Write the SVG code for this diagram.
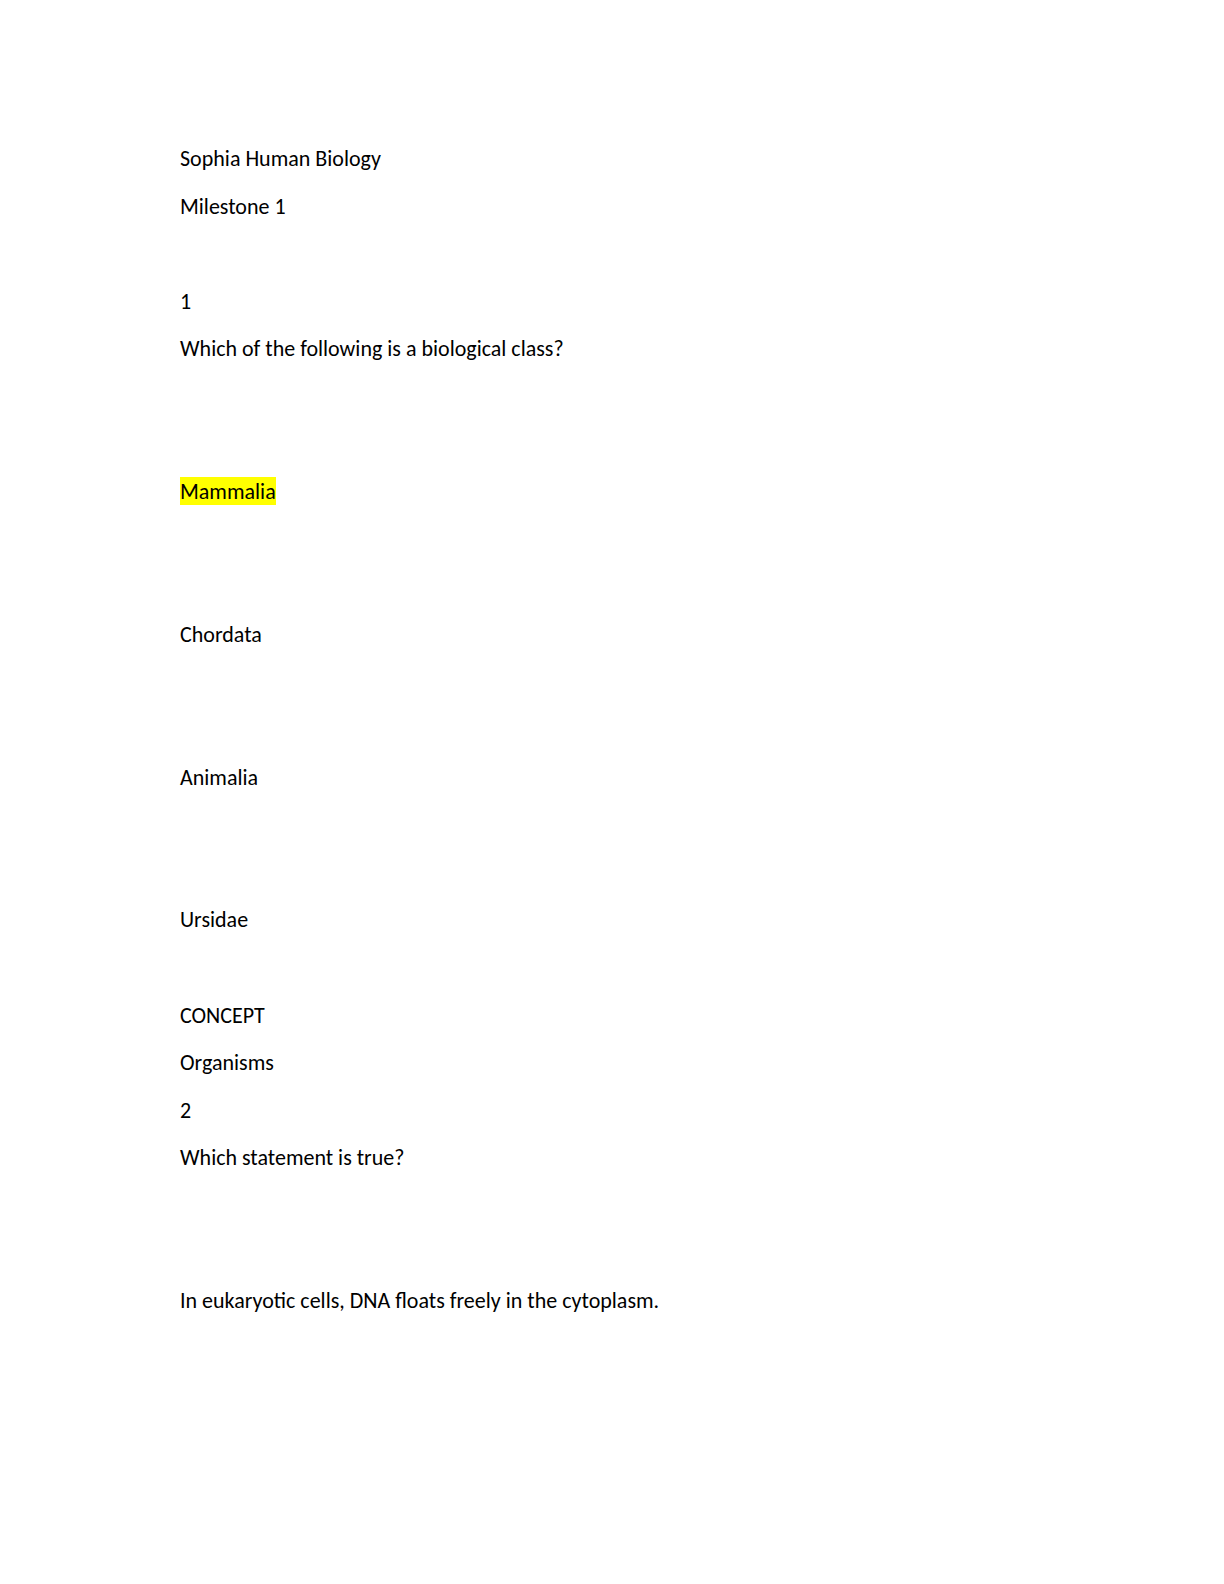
<svg xmlns="http://www.w3.org/2000/svg" width="1224" height="1584" viewBox="0 0 1224 1584">
<style>
text{font-family:Carlito,Lato,"Liberation Sans",sans-serif;font-size:22px;fill:#000}
</style>
<rect width="1224" height="1584" fill="#fff"/>
<text x="180" y="166">Sophia Human Biology</text>
<text x="180" y="214">Milestone 1</text>
<text x="180" y="309">1</text>
<text x="180" y="356">Which of the following is a biological class?</text>
<rect x="180" y="477" width="96" height="28" fill="#ffff00"/>
<text x="180" y="499">Mammalia</text>
<text x="180" y="642">Chordata</text>
<text x="180" y="785">Animalia</text>
<text x="180" y="927">Ursidae</text>
<text x="180" y="1023">CONCEPT</text>
<text x="180" y="1070">Organisms</text>
<text x="180" y="1118">2</text>
<text x="180" y="1165">Which statement is true?</text>
<text x="180" y="1308">In eukaryotic cells, DNA floats freely in the cytoplasm.</text>
</svg>
